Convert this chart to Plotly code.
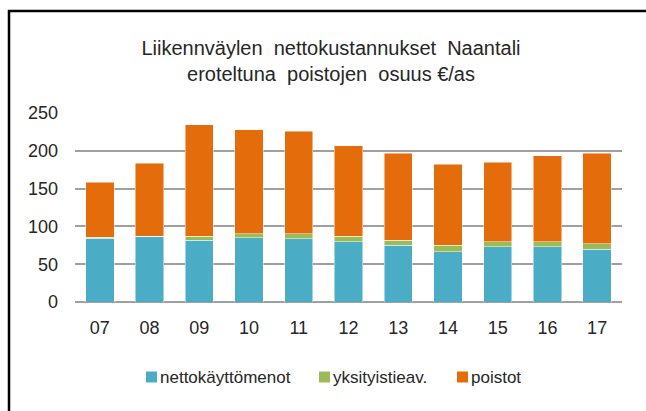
import plotly.graph_objects as go

years = ["07", "08", "09", "10", "11", "12", "13", "14", "15", "16", "17"]
nettokayttomenot = [84.4, 87.0, 81.7, 85.2, 83.5, 80.0, 75.1, 66.8, 72.9, 72.9, 69.9]
yksityistieav = [1.3, 0.3, 5.3, 5.3, 7.0, 7.0, 6.6, 8.3, 7.1, 7.1, 7.0]
poistot = [72.5, 96.4, 147.6, 137.1, 135.3, 119.9, 115.1, 106.8, 105.0, 113.3, 119.9]
series_names = ["nettokäyttömenot", "yksityistieav.", "poistot"]
colors = ["#4BACC6", "#9BBB59", "#E46C0A"]

W, H = 646, 411
L, R, T, B = 75, 24, 113, 109
pw, ph = W - L - R, H - T - B

FONT = "Liberation Sans, Arial, sans-serif"
TXT = "#262626"

fig = go.Figure()
for name, vals, col in zip(series_names, [nettokayttomenot, yksityistieav, poistot], colors):
    fig.add_trace(go.Bar(x=years, y=vals, name=name, marker_color=col,
                         marker_line=dict(color="rgba(255,255,255,0.6)", width=0.8)))


def px_x(p):
    return (p - L) / pw


def px_y(p):
    return (H - B - p) / ph


fig.update_layout(
    width=W, height=H,
    barmode="stack", bargap=0.43,
    margin=dict(l=L, r=R, t=T, b=B),
    paper_bgcolor="white", plot_bgcolor="white",
    font=dict(family=FONT, size=18, color=TXT),
    title=dict(text="Liikennväylen  nettokustannukset  Naantali<br>eroteltuna  poistojen  osuus €/as",
               x=331 / W, xanchor="center", xref="container",
               y=1 - 55 / H, yanchor="middle", yref="container",
               font=dict(size=20, color=TXT, family=FONT)),
    xaxis=dict(showgrid=False, showline=False, ticks="", tickfont=dict(size=18),
               ticklabelstandoff=13),
    yaxis=dict(range=[0, 250], dtick=50, showgrid=True, gridcolor="#A0A0A0", gridwidth=1.5,
               zeroline=True, zerolinecolor="#A0A0A0", zerolinewidth=1.5,
               showline=False, ticks="", tickfont=dict(size=18), ticklabelstandoff=16),
    showlegend=False,
)

# compact legend: colour squares + labels
legend_sq_x = [146, 319, 457]
legend_y = 377
for name, col, sx in zip(series_names, colors, legend_sq_x):
    fig.add_shape(type="rect", xref="paper", yref="paper",
                  x0=px_x(sx), x1=px_x(sx + 11), y0=px_y(legend_y + 5.5), y1=px_y(legend_y - 5.5),
                  fillcolor=col, line=dict(width=0))
    fig.add_annotation(xref="paper", yref="paper", x=px_x(sx + 12), y=px_y(legend_y),
                       xanchor="left", yanchor="middle", text=name, showarrow=False,
                       font=dict(size=17, color=TXT, family=FONT))

fig.add_shape(type="rect", xref="paper", yref="paper",
              x0=px_x(9), x1=px_x(660), y0=px_y(425), y1=px_y(11),
              line=dict(color="black", width=2.5), layer="above")

fig.write_html("out.html", config={"displayModeBar": False},
               post_script="document.body.style.margin='0';")
